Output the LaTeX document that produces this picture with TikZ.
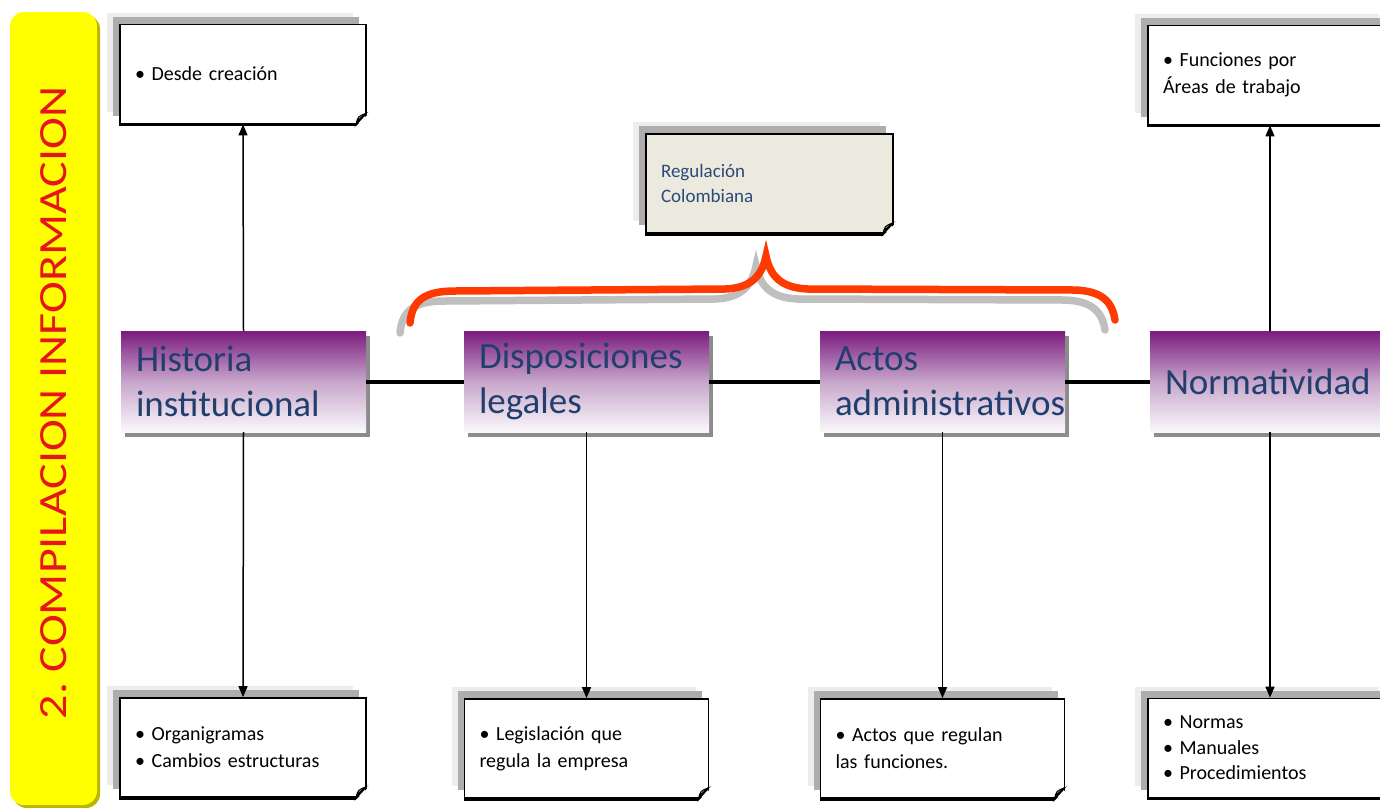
\documentclass[tikz,border=0pt]{standalone}
\usepackage{fontspec}
\setmainfont{Carlito}
\usetikzlibrary{shadows,arrows.meta,calc}
\frenchspacing
\definecolor{topicblue}{HTML}{213F6E}
\definecolor{topictop}{HTML}{7B1B7F}
\definecolor{topicmid}{HTML}{C7A6CB}
\definecolor{topicbot}{HTML}{FAF8FB}
\definecolor{titlered}{HTML}{E8141C}
\definecolor{titleyellow}{HTML}{FFFF00}
\definecolor{titleshade}{HTML}{B8B400}
\definecolor{bracered}{HTML}{FF3A00}
\definecolor{regfill}{HTML}{ECE9DF}
\definecolor{regtext}{HTML}{2B4A78}
\begin{document}
\begin{tikzpicture}[x=1pt,y=-1pt,
  note/.style={draw=black, line width=1.8pt, fill=white,
    minimum width=246pt, minimum height=99pt, inner xsep=15pt,
    text width=216pt, align=left,
    font=\fontsize{20pt}{27pt}\selectfont,
    general shadow={shadow xshift=-13pt, shadow yshift=12pt, fill=black!7},
    general shadow={shadow xshift=-7pt, shadow yshift=8pt, fill=black!32}},
  topic/.style={minimum width=245pt, minimum height=101pt, inner xsep=15pt,
    text width=215pt, align=left, text=topicblue,
    font=\fontsize{37pt}{45pt}\selectfont,
    top color=topictop, bottom color=topicbot, middle color=topicmid,
    drop shadow={shadow xshift=4pt, shadow yshift=-5pt, fill=black!45, opacity=1}},
  titlebar/.style={rotate=90, fill=titleyellow, rounded corners=14pt,
    minimum width=793pt, minimum height=87pt, text=titlered,
    font=\fontsize{40pt}{40pt}\selectfont},
  arr/.style={line width=1.5pt, -{Triangle[length=11pt,width=9pt]}},
  link/.style={line width=4pt},
  brace/.style={line width=7.5pt, line cap=round}
]
\useasboundingbox (0,0) rectangle (1380,807);
\clip (0,0) rectangle (1380,807);

% side title bar
\fill[titleshade, rounded corners=14pt] (13,15) rectangle (100,808);
\node[titlebar] (title) at (53.5,408.5)
  {\hspace*{11pt}\scalebox{1.2}[1]{2. COMPILACION INFORMACION}};

% curly brace over the two legal topics
\begin{scope}[shift={(-10,10)}]
  \draw[brace, black!25] (410,323) .. controls (412,300) and (425,291) .. (455,291)
    -- (725,289) .. controls (752,288) and (762,275) .. (766,256)
    .. controls (770,275) and (780,288) .. (808,289)
    -- (1075,290) .. controls (1100,291) and (1112,300) .. (1115,320);
\end{scope}
\draw[brace, bracered] (410,323) .. controls (412,300) and (425,291) .. (455,291)
  -- (725,289) .. controls (752,288) and (762,275) .. (766,256)
  .. controls (770,275) and (780,288) .. (808,289)
  -- (1075,290) .. controls (1100,291) and (1112,300) .. (1115,320);

% main topics
\node[topic] (hist) at (243.5,381.5) {Historia\\institucional};
\node[topic] (disp) at (586.5,381.5) {Disposiciones\\legales};
\node[topic] (actos) at (942.5,381.5) {Actos\\administrativos};
\node[topic, text width=225pt] (norm) at (1277.5,381.5) {Normatividad};

% notes
\node[note] (tl) at (243,74) {\textbullet{} Desde creación};
\node[note] (bl) at (243,747.5) {\textbullet{} Organigramas\\\textbullet{} Cambios estructuras};
\node[note, minimum width=244pt, text width=214pt] (bd) at (586.5,748.5)
  {\textbullet{} Legislación que\\regula la empresa};
\node[note, minimum width=244pt, text width=214pt] (ba) at (942.5,748.5)
  {\textbullet{} Actos que regulan\\las funciones.};
\node[note, minimum width=244pt, text width=214pt] (tr) at (1270,75)
  {\textbullet{} Funciones por\\Áreas de trabajo};
\node[note, minimum width=244pt, text width=214pt,
  font=\fontsize{20pt}{25.5pt}\selectfont] (br) at (1270,748)
  {\textbullet{} Normas\\\textbullet{} Manuales\\\textbullet{} Procedimientos};
\node[note, fill=regfill, text=regtext, minimum width=247pt, text width=217pt,
  font=\fontsize{19pt}{25pt}\selectfont] (reg) at (769.5,183.5)
  {Regulación\\Colombiana};

% heavy lower edge and curled corner of each note
\foreach \n in {tl,bl,bd,ba,tr,br,reg} {
  \draw[line width=3.5pt] (\n.south west) -- (\n.south east);
  \fill[white] ($(\n.south east)+(-12,3)$) -- ($(\n.south east)+(3,3)$)
    -- ($(\n.south east)+(3,-12)$) -- cycle;
  \filldraw[line width=1pt, fill=black!30] ($(\n.south east)+(-11,0)$)
    .. controls ($(\n.south east)+(-9,-8)$) .. ($(\n.south east)+(-1,-11)$)
    -- ($(\n.south east)+(-8,-5)$) -- cycle;
  \draw[line width=1.8pt] ($(\n.south east)+(-11,0)$) -- ($(\n.south east)+(-1,-11)$);
}

% connectors along the main line
\draw[link] (hist.east) -- (disp.west);
\draw[link] (disp.east) -- (actos.west);
\draw[link] (actos.east) -- (norm.west);

% connectors to the notes
\draw[arr] (hist.north) -- (tl.south);
\draw[arr] (hist.south) -- (bl.north);
\draw[arr] (disp.south) -- (bd.north);
\draw[arr] (actos.south) -- (ba.north);
\draw[arr] (norm.north -| tr.south) -- (tr.south);
\draw[arr] (norm.south -| br.north) -- (br.north);
\end{tikzpicture}
\end{document}
